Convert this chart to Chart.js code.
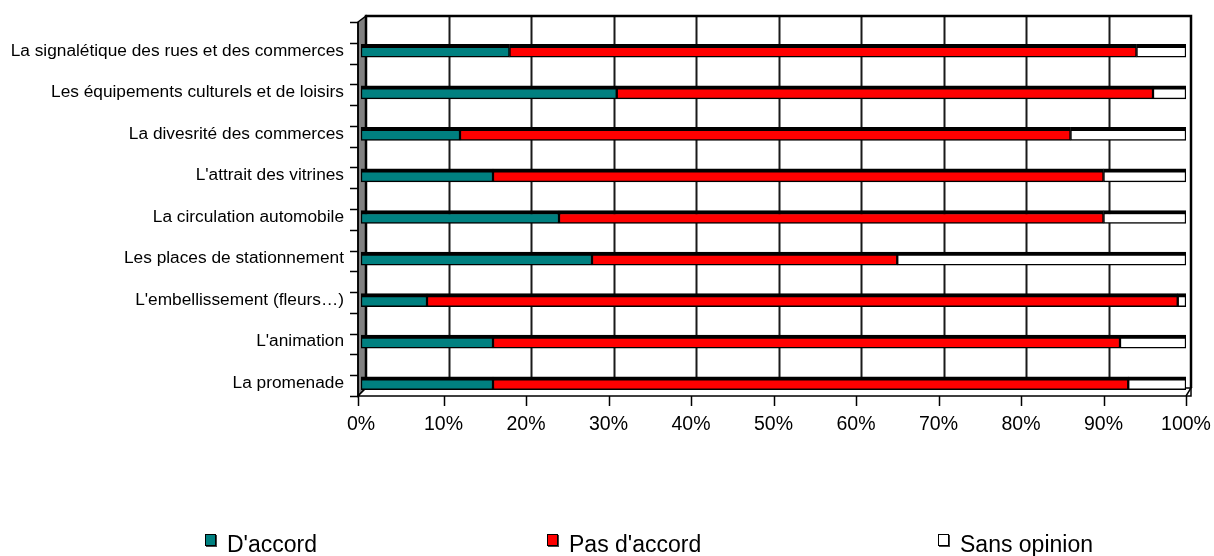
<!DOCTYPE html>
<html>
<head>
<meta charset="utf-8">
<script src="https://cdn.jsdelivr.net/npm/chart.js@4/dist/chart.umd.min.js"></script>
<style>
  html, body { margin: 0; padding: 0; background: #fff; }
  #wrap { position: relative; width: 1214px; height: 556px; }
  #legend { position: absolute; left: 0; top: 533px; width: 1214px; height: 23px;
            font-family: "Liberation Sans", Arial, sans-serif; font-size: 23px; line-height: 23px; color: #000; }
  .item { position: absolute; top: 0; white-space: nowrap; }
  .box { position: absolute; left: 0; top: 1px; width: 9px; height: 10px; border: 1px solid #000; box-shadow: 1px 1px 0 #444; }
  .label { position: absolute; left: 22px; top: 0; }
</style>
</head>
<body>
<div id="wrap">
  <canvas id="chart" width="1214" height="556"></canvas>
  <div id="legend"></div>
</div>
<script>
const categories = [
  'La signalétique des rues et des commerces',
  'Les équipements culturels et de loisirs',
  'La divesrité des commerces',
  "L'attrait des vitrines",
  'La circulation automobile',
  'Les places de stationnement',
  "L'embellissement (fleurs…)",
  "L'animation",
  'La promenade'
];
const daccord     = [18, 31, 12, 16, 24, 28, 8, 16, 16];
const pasDaccord  = [76, 65, 74, 74, 66, 37, 91, 76, 77];
const sansOpinion = [6, 4, 14, 10, 10, 35, 1, 8, 7];
const seriesNames = ["D'accord", "Pas d'accord", 'Sans opinion'];
const seriesColors = ['#008080', '#ff0000', '#ffffff'];
const legendLeft = [205, 547, 938];

const FONT = '"Liberation Sans", Arial, sans-serif';

// excel style 3d box: back wall, grey side wall, floor, tick marks
const frame = {
  id: 'frame',
  beforeDatasetsDraw(chart) {
    const { ctx, chartArea: a, scales: { x, y } } = chart;
    const dx = 5;
    const backTop = a.top - 14, backBottom = a.bottom - 16;
    const frontTop = a.top - 8, frontBottom = a.bottom - 8;
    const axisX = a.left - 3;
    ctx.save();

    // grey left wall
    ctx.fillStyle = '#808080';
    ctx.beginPath();
    ctx.moveTo(axisX, frontTop);
    ctx.lineTo(a.left + dx, backTop);
    ctx.lineTo(a.left + dx, backBottom);
    ctx.lineTo(axisX, frontBottom);
    ctx.closePath();
    ctx.fill();
    ctx.strokeStyle = '#000';
    ctx.lineWidth = 1.5;
    ctx.stroke();

    // back wall grid lines
    ctx.strokeStyle = '#1a1a1a';
    ctx.lineWidth = 2;
    for (let v = 10; v < 100; v += 10) {
      const px = Math.round(x.getPixelForValue(v) + dx) + 0.5;
      ctx.beginPath();
      ctx.moveTo(px, backTop);
      ctx.lineTo(px, backBottom);
      ctx.stroke();
    }

    // back wall outline
    ctx.strokeStyle = '#000';
    ctx.lineWidth = 2.5;
    ctx.beginPath();
    ctx.moveTo(a.left + dx, backBottom);
    ctx.lineTo(a.left + dx, backTop);
    ctx.lineTo(a.right + dx, backTop);
    ctx.lineTo(a.right + dx, backBottom);
    ctx.stroke();

    // floor
    ctx.fillStyle = '#fff';
    ctx.lineWidth = 1.5;
    ctx.beginPath();
    ctx.moveTo(axisX, frontBottom);
    ctx.lineTo(a.left + dx, backBottom);
    ctx.lineTo(a.right + dx, backBottom);
    ctx.lineTo(a.right, frontBottom);
    ctx.closePath();
    ctx.fill();
    ctx.stroke();
    ctx.beginPath();
    ctx.moveTo(a.right + dx, backBottom);
    ctx.lineTo(a.right + dx, frontBottom);
    ctx.lineTo(a.right, frontBottom);
    ctx.stroke();

    // left axis with ticks at band edges and middles
    ctx.lineWidth = 1.5;
    ctx.beginPath();
    ctx.moveTo(axisX, frontTop);
    ctx.lineTo(axisX, frontBottom + 1);
    const band = (a.bottom - a.top) / categories.length;
    for (let k = 0; k <= categories.length * 2; k++) {
      const py = Math.round(frontTop + k * band / 2) + 0.5;
      ctx.moveTo(axisX - 8, py);
      ctx.lineTo(axisX, py);
    }
    ctx.stroke();

    // bottom ticks
    ctx.beginPath();
    for (let v = 0; v <= 100; v += 10) {
      const px = Math.round(x.getPixelForValue(v)) + 0.5 - (v === 0 ? 3 : 0);
      ctx.moveTo(px, frontBottom);
      ctx.lineTo(px, frontBottom + 10);
    }
    ctx.stroke();
    ctx.restore();
  }
};

const datasets = [daccord, pasDaccord, sansOpinion].map((vals, i) => ({
  label: seriesNames[i],
  data: vals,
  backgroundColor: seriesColors[i],
  borderColor: '#000',
  borderWidth: { top: 4, bottom: 1.5, left: 1.5, right: 1.5 },
  borderSkipped: false,
  barThickness: 13
}));

new Chart(document.getElementById('chart'), {
  type: 'bar',
  data: { labels: categories, datasets: datasets },
  plugins: [frame],
  options: {
    responsive: false,
    animation: false,
    indexAxis: 'y',
    layout: { padding: { top: 30, right: 28, left: 0, bottom: 0 } },
    plugins: { legend: { display: false }, tooltip: { enabled: false } },
    scales: {
      x: {
        stacked: true,
        min: 0,
        max: 100,
        ticks: { stepSize: 10, callback: v => v + '%', color: '#000', font: { family: FONT, size: 19.5 }, padding: 9, maxRotation: 0 },
        grid: { display: false, drawTicks: false },
        border: { display: false },
        afterFit: s => { s.height = 152; s.paddingRight = 0; s.paddingLeft = 0; }
      },
      y: {
        stacked: true,
        ticks: { color: '#000', font: { family: FONT, size: 17.3 }, padding: 17, autoSkip: false },
        grid: { display: false, drawTicks: false },
        border: { display: false },
        afterFit: s => { s.width = 361; }
      }
    }
  }
});

// legend
const legendEl = document.getElementById('legend');
seriesNames.forEach((name, i) => {
  const item = document.createElement('div');
  item.className = 'item';
  item.style.left = legendLeft[i] + 'px';
  item.innerHTML = '<span class="box" style="background:' + seriesColors[i] + '"></span><span class="label">' + name + '</span>';
  legendEl.appendChild(item);
});
</script>
</body>
</html>
